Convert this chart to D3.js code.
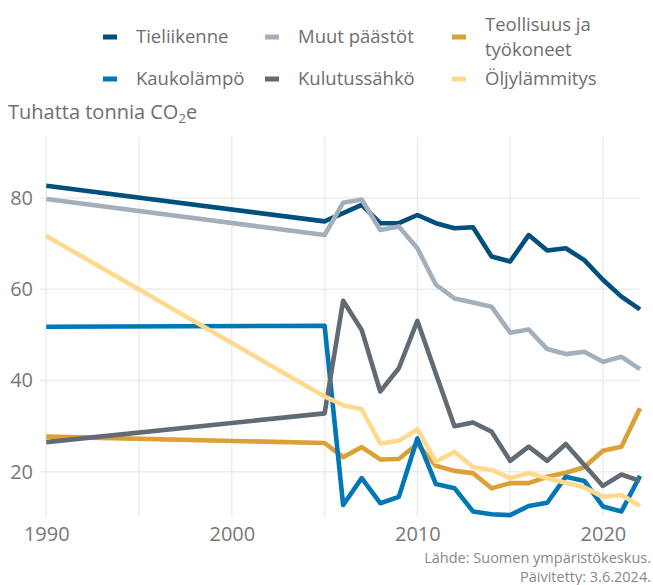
<!DOCTYPE html>
<html>
<head>
<meta charset="utf-8">
<script src="https://cdn.jsdelivr.net/npm/d3@7"></script>
<style>
  html, body { margin: 0; padding: 0; background: #fff; }
  svg { display: block; font-family: "Open Sans", sans-serif; }
</style>
</head>
<body>
<svg id="chart" width="653" height="585"></svg>
<script>
// Years with data (1990 plus the annual series from 2005 on)
const years = [1990, 2005, 2006, 2007, 2008, 2009, 2010, 2011, 2012, 2013, 2014,
               2015, 2016, 2017, 2018, 2019, 2020, 2021, 2022];

// Emissions, thousand tonnes CO2e
const tieliikenne   = [82.7, 74.9, 76.7, 78.5, 74.5, 74.5, 76.3, 74.5, 73.4, 73.6, 67.2,
                       66.1, 71.9, 68.5, 69.0, 66.4, 62.1, 58.4, 55.6];
const muutPaastot   = [79.8, 71.9, 79.0, 79.7, 73.0, 73.8, 69.0, 61.0, 58.0, 57.1, 56.2,
                       50.5, 51.2, 46.9, 45.8, 46.3, 44.1, 45.2, 42.5];
const teollisuus    = [27.7, 26.3, 23.2, 25.4, 22.7, 22.8, 26.1, 21.3, 20.2, 19.7, 16.4,
                       17.5, 17.5, 18.9, 19.8, 21.0, 24.6, 25.5, 33.9];
const kaukolampo    = [51.8, 52.0, 12.7, 18.6, 13.1, 14.5, 27.3, 17.3, 16.4, 11.3, 10.7,
                       10.5, 12.5, 13.2, 18.9, 18.0, 12.4, 11.3, 19.1];
const kulutussahko  = [26.5, 32.8, 57.5, 51.1, 37.6, 42.7, 53.1, 41.5, 30.0, 30.8, 28.8,
                       22.4, 25.5, 22.4, 26.1, 21.5, 16.9, 19.4, 18.0];
const oljylammitys  = [71.7, 36.5, 34.6, 33.7, 26.2, 26.8, 29.3, 22.2, 24.4, 21.0, 20.4,
                       18.6, 19.7, 18.6, 17.6, 16.6, 14.5, 14.9, 12.5];

const seriesNames  = ["Tieliikenne", "Muut päästöt", "Teollisuus ja työkoneet",
                      "Kaukolämpö", "Kulutussähkö", "Öljylämmitys"];
const seriesValues = [tieliikenne, muutPaastot, teollisuus, kaukolampo, kulutussahko, oljylammitys];
const seriesColors = ["#004f7c", "#a3afbb", "#dba036", "#0077b6", "#616b74", "#ffd98e"];

const yTicks = [20, 40, 60, 80];
const xTicks = [1990, 2000, 2010, 2020];
const xGrid  = [1990, 1995, 2000, 2005, 2010, 2015, 2020];

const svg = d3.select("#chart");

const x = d3.scaleLinear().domain([1990, 2022]).range([46.3, 640]);
const y = d3.scaleLinear().domain([10.3, 93.4]).range([516, 137]);

// Grid
const grid = svg.append("g");
grid.selectAll("line.v").data(xGrid).join("line")
  .attr("x1", d => x(d)).attr("x2", d => x(d))
  .attr("y1", y(93.4)).attr("y2", y(10.3))
  .attr("stroke", "#ececec").attr("stroke-width", 1.5);
grid.selectAll("line.h").data(yTicks).join("line")
  .attr("x1", 40).attr("x2", 640)
  .attr("y1", d => y(d)).attr("y2", d => y(d))
  .attr("stroke", "#ececec").attr("stroke-width", 1.5);

// Axes (labels only)
const yAxis = svg.append("g").attr("transform", "translate(33,0)")
  .call(d3.axisLeft(y).tickValues(yTicks).tickSize(0).tickPadding(0));
const xAxis = svg.append("g").attr("transform", "translate(0,525)")
  .call(d3.axisBottom(x).tickValues(xTicks).tickFormat(d3.format("d")).tickSize(0).tickPadding(0));
[yAxis, xAxis].forEach(a => {
  a.select(".domain").remove();
  a.selectAll("text").attr("fill", "#777").style("font-size", "20px")
    .style("font-family", "'Open Sans', sans-serif");
});
xAxis.selectAll("text").attr("dy", "0.71em").attr("y", 2);

// Lines
const line = d3.line().x((d, i) => x(years[i])).y(d => y(d));
svg.append("g").selectAll("path").data(seriesValues).join("path")
  .attr("d", d => line(d))
  .attr("fill", "none")
  .attr("stroke", (d, i) => seriesColors[i])
  .attr("stroke-width", 4.6)
  .attr("stroke-linejoin", "round");

// Legend
const legendPos = [
  [103, 37], [265, 37], [452, 37],
  [103, 79], [265, 79], [452, 79]
];
const legend = svg.append("g");
seriesNames.forEach((name, i) => {
  const [lx, ly] = legendPos[i];
  legend.append("rect").attr("x", lx).attr("y", ly - 2.5).attr("width", 14).attr("height", 5)
    .attr("fill", seriesColors[i]);
  const t = legend.append("text").attr("x", lx + 33).attr("y", ly).attr("fill", "#6e6e6e")
    .style("font-size", "18.5px").attr("dy", "0.35em");
  if (name === "Teollisuus ja työkoneet") {
    t.attr("y", ly - 12.5);
    t.append("tspan").attr("x", lx + 33).text("Teollisuus ja");
    t.append("tspan").attr("x", lx + 33).attr("dy", 25.5).text("työkoneet");
  } else {
    t.text(name);
  }
});

// Y axis title
const title = svg.append("text").attr("x", 8).attr("y", 119).attr("fill", "#6e6e6e")
  .style("font-size", "20px");
title.append("tspan").text("Tuhatta tonnia CO");
title.append("tspan").attr("dy", 4).style("font-size", "13px").text("2");
title.append("tspan").attr("dy", -4).text("e");

// Source note
const note = svg.append("text").attr("text-anchor", "end").attr("fill", "#888")
  .style("font-size", "14.5px");
note.append("tspan").attr("x", 651).attr("y", 563).text("Lähde: Suomen ympäristökeskus.");
note.append("tspan").attr("x", 651).attr("y", 582).text("Päivitetty: 3.6.2024.");
</script>
</body>
</html>
